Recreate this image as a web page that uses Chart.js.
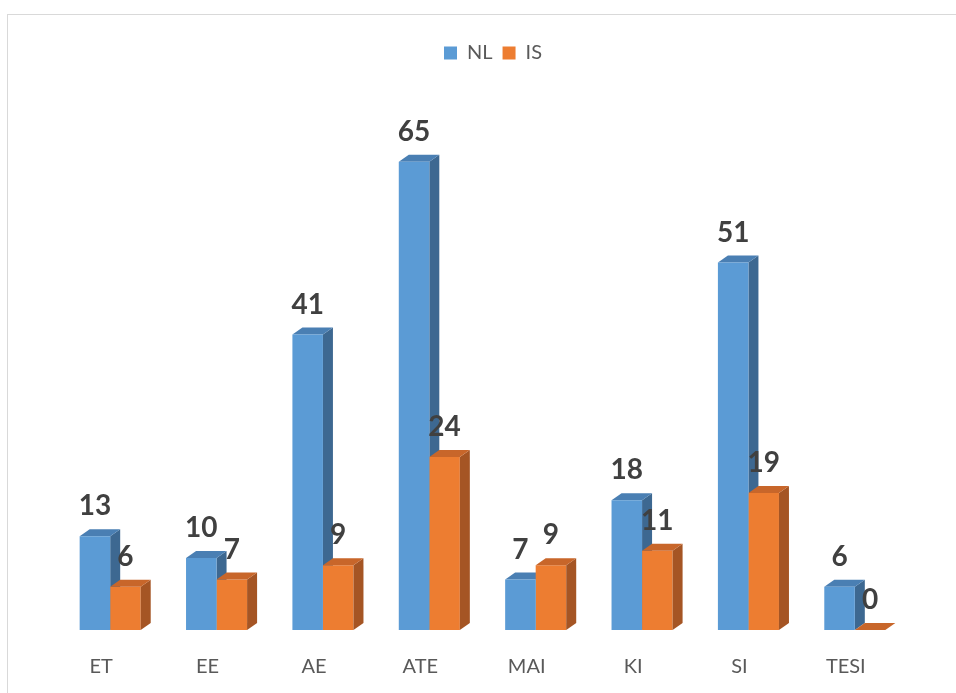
<!DOCTYPE html>
<html>
<head>
<meta charset="utf-8">
<script src="https://cdn.jsdelivr.net/npm/chart.js@4.4.1/dist/chart.umd.min.js"></script>
<style>
html,body{margin:0;padding:0;background:#fff;overflow:hidden;}
#frame{position:absolute;left:7px;top:14px;width:1000px;height:700px;border-left:1.5px solid #d9d9d9;border-top:1.5px solid #d9d9d9;box-sizing:border-box;}
#wrap{position:absolute;left:0;top:0;width:956px;height:693px;}
</style>
</head>
<body>
<div id="frame"></div>
<div id="wrap"><canvas id="c" width="956" height="693"></canvas></div>
<script>
const categories = ['ET','EE','AE','ATE','MAI','KI','SI','TESI'];
const seriesNames = ['NL','IS'];
const nlValues = [13,10,41,65,7,18,51,6];
const isValues = [6,7,9,24,9,11,19,0];

const FRONT = ['#5B9BD5','#ED7D31'];
const TOP = ['#4A7FB3','#C8662A'];
const SIDE = ['#3D6891','#A55524'];
const DX = 10, DY = 7;

function drawFaces(ctx, bar, di, base){
  const half = bar.width/2;
  const l = bar.x - half, r = bar.x + half;
  const t = bar.y;
  ctx.fillStyle = SIDE[di];
  ctx.beginPath();
  ctx.moveTo(r, t); ctx.lineTo(r+DX, t-DY); ctx.lineTo(r+DX, base-DY); ctx.lineTo(r, base);
  ctx.closePath(); ctx.fill();
  ctx.fillStyle = TOP[di];
  ctx.beginPath();
  ctx.moveTo(l, t); ctx.lineTo(l+DX, t-DY); ctx.lineTo(r+DX, t-DY); ctx.lineTo(r, t);
  ctx.closePath(); ctx.fill();
}

const bars3d = {
  id: 'bars3d',
  beforeDatasetsDraw(chart){
    const ctx = chart.ctx, base = chart.scales.y.getPixelForValue(0);
    ctx.save();
    chart.getDatasetMeta(0).data.forEach(b => drawFaces(ctx, b, 0, base));
    ctx.restore();
  },
  afterDatasetsDraw(chart){
    const ctx = chart.ctx, base = chart.scales.y.getPixelForValue(0);
    ctx.save();
    chart.getDatasetMeta(1).data.forEach(b => drawFaces(ctx, b, 1, base));
    ctx.font = 'bold 28px Lato';
    ctx.fillStyle = '#404040';
    ctx.textAlign = 'center';
    ctx.textBaseline = 'alphabetic';
    [0,1].forEach(di => {
      const vals = chart.data.datasets[di].data;
      chart.getDatasetMeta(di).data.forEach((b,i) => {
        ctx.fillText(String(vals[i]), b.x, b.y - 21);
      });
    });
    ctx.restore();
  }
};

new Chart(document.getElementById('c'), {
  type: 'bar',
  plugins: [bars3d],
  data: {
    labels: categories,
    datasets: [
      {label: seriesNames[0], data: nlValues, backgroundColor: FRONT[0], borderWidth: 0},
      {label: seriesNames[1], data: isValues, backgroundColor: FRONT[1], borderWidth: 0}
    ]
  },
  options: {
    responsive: false,
    animation: false,
    devicePixelRatio: 1,
    layout: {padding: {left: 30, right: 0, top: 33, bottom: 0}},
    datasets: {bar: {categoryPercentage: 0.574, barPercentage: 1}},
    plugins: {
      legend: {
        position: 'top',
        labels: {boxWidth: 13, boxHeight: 13, padding: 10, color: '#595959', font: {family: 'Lato', size: 20}}
      },
      tooltip: {enabled: false}
    },
    scales: {
      x: {
        grid: {display: false}, border: {display: false},
        ticks: {color: '#595959', font: {family: 'Lato', size: 20}, labelOffset: -9, padding: 17},
        afterFit(s){ s.height = 63; }
      },
      y: {
        position: 'left', min: 0, max: 77.3,
        grid: {display: false}, border: {display: false},
        ticks: {display: false},
        afterFit(s){ s.width = 27; }
      },
      y2: {
        position: 'right', min: 0, max: 77.3,
        grid: {display: false}, border: {display: false},
        ticks: {display: false},
        afterFit(s){ s.width = 48; }
      }
    }
  }
});
</script>
</body>
</html>
